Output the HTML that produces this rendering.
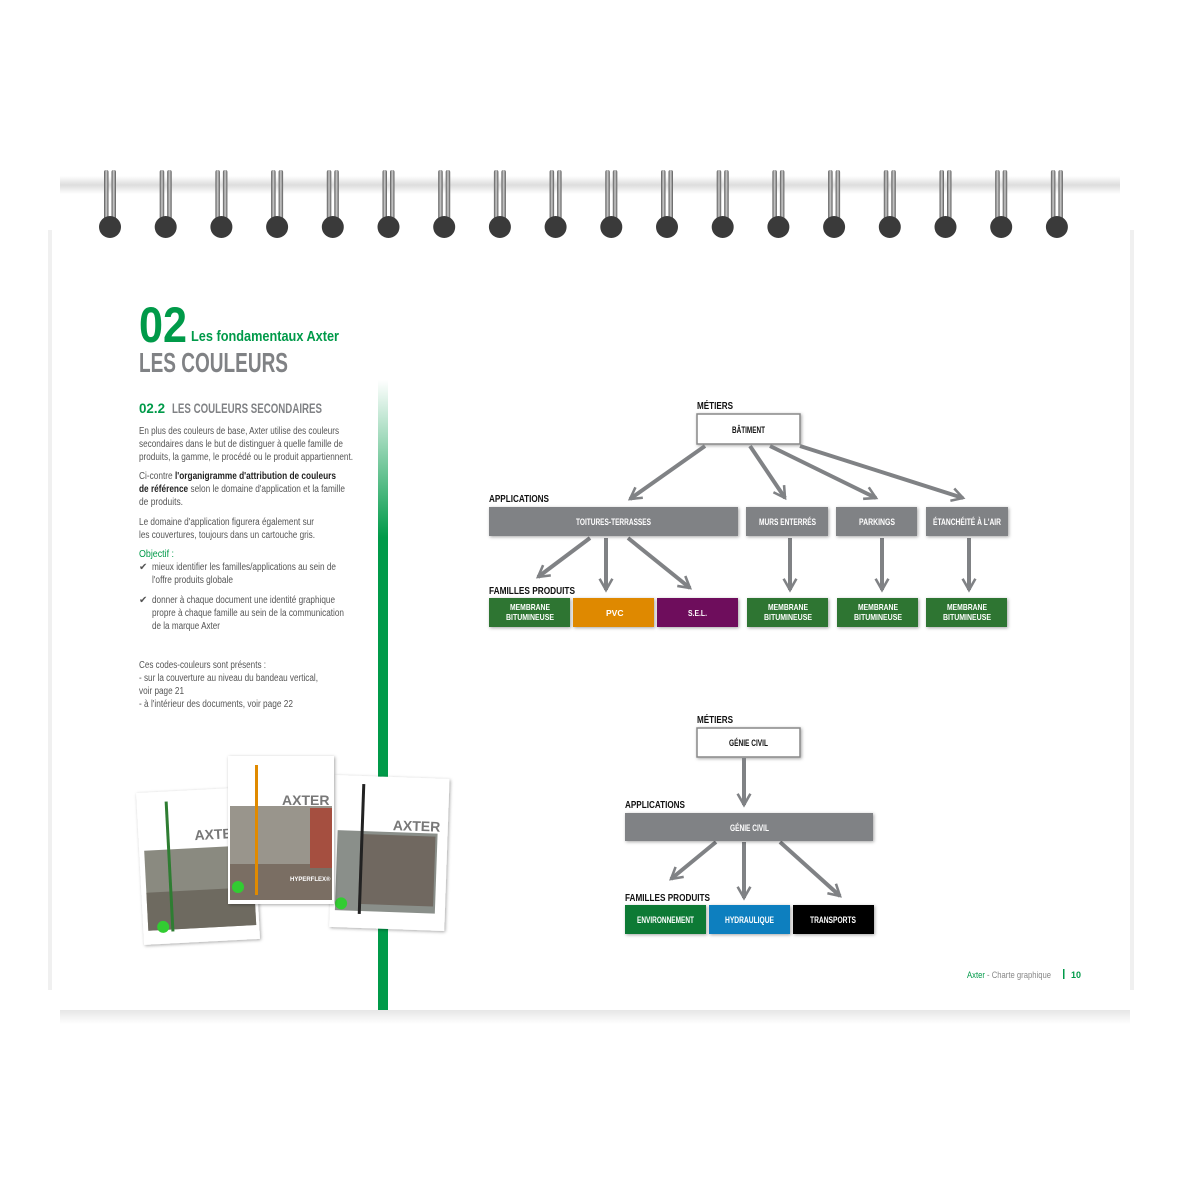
<!DOCTYPE html>
<html><head><meta charset="utf-8"><style>
html,body{margin:0;padding:0;background:#fff;}
svg{display:block}
text{font-family:"Liberation Sans",sans-serif}
</style></head><body>
<svg width="1200" height="1181" viewBox="0 0 1200 1181" xmlns="http://www.w3.org/2000/svg">
<defs>
<linearGradient id="gbar" x1="0" y1="0" x2="0" y2="1">
<stop offset="0" stop-color="#fff"/><stop offset="0.25" stop-color="#009a49"/><stop offset="1" stop-color="#009a49"/>
</linearGradient>
<linearGradient id="ring" x1="0" y1="0" x2="1" y2="0">
<stop offset="0" stop-color="#555"/><stop offset="0.5" stop-color="#ccc"/><stop offset="1" stop-color="#555"/>
</linearGradient>
<linearGradient id="topsh" x1="0" y1="0" x2="0" y2="1">
<stop offset="0" stop-color="#fff"/><stop offset="0.5" stop-color="#ddd"/><stop offset="1" stop-color="#fff"/>
</linearGradient>
<linearGradient id="botsh" x1="0" y1="0" x2="0" y2="1">
<stop offset="0" stop-color="#e6e6e6"/><stop offset="1" stop-color="#fff"/>
</linearGradient>
<filter id="sh" x="-10%" y="-10%" width="130%" height="130%"><feDropShadow dx="1" dy="1" stdDeviation="1.5" flood-color="#000" flood-opacity="0.35"/></filter>
<marker id="ah" viewBox="0 0 10 10" refX="8" refY="5" markerWidth="4" markerHeight="4" orient="auto" markerUnits="strokeWidth">
<path d="M1,1 L8,5 L1,9" fill="none" stroke="#808285" stroke-width="1.6"/>
</marker>
</defs>

<rect x="60" y="176" width="1060" height="18" fill="url(#topsh)"/>
<rect x="60" y="1010" width="1070" height="14" fill="url(#botsh)"/>
<rect x="48" y="230" width="4" height="760" fill="#f0f0f0"/>
<rect x="1130" y="230" width="4" height="760" fill="#f0f0f0"/>

<g id="rings">
<g transform="translate(110,0)"><rect x="-6" y="170" width="4.5" height="58" rx="2" fill="url(#ring)"/><rect x="1.5" y="170" width="4.5" height="58" rx="2" fill="url(#ring)"/><circle cx="0" cy="227" r="11" fill="#3a3a3a"/></g>
</g>
<use href="#rings" x="55.7"/><use href="#rings" x="111.4"/><use href="#rings" x="167.1"/><use href="#rings" x="222.8"/><use href="#rings" x="278.5"/><use href="#rings" x="334.2"/><use href="#rings" x="389.9"/><use href="#rings" x="445.6"/><use href="#rings" x="501.3"/><use href="#rings" x="557"/><use href="#rings" x="612.7"/><use href="#rings" x="668.4"/><use href="#rings" x="724.1"/><use href="#rings" x="779.8"/><use href="#rings" x="835.5"/><use href="#rings" x="891.2"/><use href="#rings" x="946.9"/>

<rect x="378" y="380" width="10" height="630" fill="url(#gbar)"/>

<text x="139" y="342" font-size="50" font-weight="bold" fill="#009a49" textLength="48" lengthAdjust="spacingAndGlyphs">02</text>
<text x="191" y="341" font-size="15" font-weight="bold" fill="#009a49" textLength="148" lengthAdjust="spacingAndGlyphs">Les fondamentaux Axter</text>
<text x="139" y="372" font-size="28" font-weight="bold" fill="#808285" textLength="149" lengthAdjust="spacingAndGlyphs">LES COULEURS</text>
<text x="139" y="413" font-size="13.5" font-weight="bold" fill="#009a49" textLength="26" lengthAdjust="spacingAndGlyphs">02.2</text>
<text x="172" y="413" font-size="13.5" font-weight="bold" fill="#808285" textLength="150" lengthAdjust="spacingAndGlyphs">LES COULEURS SECONDAIRES</text>

<g font-size="10" fill="#555">
<text x="139" y="434" textLength="200" lengthAdjust="spacingAndGlyphs">En plus des couleurs de base, Axter utilise des couleurs</text>
<text x="139" y="447" textLength="204" lengthAdjust="spacingAndGlyphs">secondaires dans le but de distinguer à quelle famille de</text>
<text x="139" y="460" textLength="214" lengthAdjust="spacingAndGlyphs">produits, la gamme, le procédé ou le produit appartiennent.</text>
<text x="139" y="479" textLength="197" lengthAdjust="spacingAndGlyphs">Ci-contre <tspan font-weight="bold" fill="#222">l'organigramme d'attribution de couleurs</tspan></text>
<text x="139" y="492" textLength="206" lengthAdjust="spacingAndGlyphs"><tspan font-weight="bold" fill="#222">de référence</tspan> selon le domaine d'application et la famille</text>
<text x="139" y="505" textLength="44" lengthAdjust="spacingAndGlyphs">de produits.</text>
<text x="139" y="525" textLength="175" lengthAdjust="spacingAndGlyphs">Le domaine d'application figurera également sur</text>
<text x="139" y="538" textLength="176" lengthAdjust="spacingAndGlyphs">les couvertures, toujours dans un cartouche gris.</text>
<text x="139" y="557" fill="#009a49" textLength="35" lengthAdjust="spacingAndGlyphs">Objectif :</text>
<text x="139" y="570">✔</text>
<text x="152" y="570" textLength="184" lengthAdjust="spacingAndGlyphs">mieux identifier les familles/applications au sein de</text>
<text x="152" y="583" textLength="81" lengthAdjust="spacingAndGlyphs">l'offre produits globale</text>
<text x="139" y="603">✔</text>
<text x="152" y="603" textLength="183" lengthAdjust="spacingAndGlyphs">donner à chaque document une identité graphique</text>
<text x="152" y="616" textLength="192" lengthAdjust="spacingAndGlyphs">propre à chaque famille au sein de la communication</text>
<text x="152" y="629" textLength="68" lengthAdjust="spacingAndGlyphs">de la marque Axter</text>
<text x="139" y="668" textLength="127" lengthAdjust="spacingAndGlyphs">Ces codes-couleurs sont présents :</text>
<text x="139" y="681" textLength="179" lengthAdjust="spacingAndGlyphs">- sur la couverture au niveau du bandeau vertical,</text>
<text x="139" y="694" textLength="45" lengthAdjust="spacingAndGlyphs">voir page 21</text>
<text x="139" y="707" textLength="154" lengthAdjust="spacingAndGlyphs">- à l'intérieur des documents, voir page 22</text>
</g>

<g filter="url(#sh)">
<g transform="rotate(-3 198 865)">
<rect x="140" y="790" width="116" height="152" fill="#fff"/>
<rect x="145" y="848" width="108" height="80" fill="#8a8a80"/>
<rect x="145" y="890" width="108" height="38" fill="#6e6a60"/>
<rect x="168" y="800" width="3" height="130" fill="#2f7d32"/>
<text x="196" y="840" font-size="14" font-weight="bold" fill="#777">AXTE</text>
<circle cx="160" cy="925" r="6" fill="#3c3"/>
</g>
</g>
<g filter="url(#sh)">
<g transform="rotate(2 390 850)">
<rect x="332" y="777" width="115" height="152" fill="#fff"/>
<rect x="337" y="832" width="100" height="80" fill="#8a8f8a"/>
<rect x="360" y="835" width="75" height="70" fill="#6f6860"/>
<rect x="360" y="785" width="3" height="130" fill="#222"/>
<text x="392" y="830" font-size="14" font-weight="bold" fill="#777">AXTER</text>
<circle cx="343" cy="905" r="6" fill="#3c3"/>
</g>
</g>
<g filter="url(#sh)">
<rect x="228" y="756" width="106" height="148" fill="#fff"/>
<rect x="230" y="806" width="102" height="94" fill="#99958c"/>
<rect x="230" y="864" width="102" height="36" fill="#7a6e64"/>
<rect x="310" y="808" width="22" height="60" fill="#a5503f"/>
<rect x="255" y="765" width="3" height="130" fill="#e08a00"/>
<text x="282" y="805" font-size="14" font-weight="bold" fill="#777">AXTER</text>
<text x="290" y="881" font-size="6" font-weight="bold" fill="#fff">HYPERFLEX®</text>
<circle cx="238" cy="887" r="6" fill="#3c3"/>
</g>

<g font-weight="bold">
<text x="697" y="409" font-size="10" fill="#111" textLength="36" lengthAdjust="spacingAndGlyphs">MÉTIERS</text>
<rect x="697" y="414" width="103" height="30" fill="#fff" stroke="#888" stroke-width="1.5" filter="url(#sh)"/>
<text x="732" y="433" font-size="9" fill="#111" textLength="33" lengthAdjust="spacingAndGlyphs">BÂTIMENT</text>
<g stroke="#808285" stroke-width="4" marker-end="url(#ah)" fill="none">
<line x1="705" y1="446" x2="630" y2="499"/>
<line x1="750" y1="446" x2="785" y2="498"/>
<line x1="770" y1="446" x2="876" y2="498"/>
<line x1="800" y1="446" x2="963" y2="498"/>
<line x1="590" y1="538" x2="538" y2="577"/>
<line x1="606" y1="538" x2="606" y2="590"/>
<line x1="628" y1="538" x2="690" y2="588"/>
<line x1="790" y1="538" x2="790" y2="590"/>
<line x1="882" y1="538" x2="882" y2="590"/>
<line x1="969" y1="538" x2="969" y2="590"/>
</g>
<text x="489" y="502" font-size="10" fill="#111" textLength="60" lengthAdjust="spacingAndGlyphs">APPLICATIONS</text>
<g fill="#808285" filter="url(#sh)">
<rect x="489" y="507" width="249" height="29"/>
<rect x="746" y="507" width="82" height="29"/>
<rect x="836" y="507" width="81" height="29"/>
<rect x="926" y="507" width="82" height="29"/>
</g>
<g font-size="9" fill="#fff">
<text x="576" y="525" textLength="75" lengthAdjust="spacingAndGlyphs">TOITURES-TERRASSES</text>
<text x="759" y="525" textLength="57" lengthAdjust="spacingAndGlyphs">MURS ENTERRÉS</text>
<text x="859" y="525" textLength="36" lengthAdjust="spacingAndGlyphs">PARKINGS</text>
<text x="933" y="525" textLength="68" lengthAdjust="spacingAndGlyphs">ÉTANCHÉITÉ À L'AIR</text>
</g>
<text x="489" y="594" font-size="10" fill="#111" textLength="86" lengthAdjust="spacingAndGlyphs">FAMILLES PRODUITS</text>
<g filter="url(#sh)">
<rect x="489" y="598" width="81" height="29" fill="#2e7532"/>
<rect x="573" y="598" width="81" height="29" fill="#df8900"/>
<rect x="657" y="598" width="81" height="29" fill="#6e0c5b"/>
<rect x="747" y="598" width="81" height="29" fill="#2e7532"/>
<rect x="837" y="598" width="81" height="29" fill="#2e7532"/>
<rect x="926" y="598" width="81" height="29" fill="#2e7532"/>
</g>
<g font-size="8.5" fill="#fff">
<g transform="translate(489,0)"><text x="21" y="610" textLength="40" lengthAdjust="spacingAndGlyphs">MEMBRANE</text><text x="17" y="620" textLength="48" lengthAdjust="spacingAndGlyphs">BITUMINEUSE</text></g>
<text x="606" y="616">PVC</text>
<text x="688" y="616" textLength="19" lengthAdjust="spacingAndGlyphs">S.E.L.</text>
<g transform="translate(747,0)"><text x="21" y="610" textLength="40" lengthAdjust="spacingAndGlyphs">MEMBRANE</text><text x="17" y="620" textLength="48" lengthAdjust="spacingAndGlyphs">BITUMINEUSE</text></g>
<g transform="translate(837,0)"><text x="21" y="610" textLength="40" lengthAdjust="spacingAndGlyphs">MEMBRANE</text><text x="17" y="620" textLength="48" lengthAdjust="spacingAndGlyphs">BITUMINEUSE</text></g>
<g transform="translate(926,0)"><text x="21" y="610" textLength="40" lengthAdjust="spacingAndGlyphs">MEMBRANE</text><text x="17" y="620" textLength="48" lengthAdjust="spacingAndGlyphs">BITUMINEUSE</text></g>
</g>

<text x="697" y="723" font-size="10" fill="#111" textLength="36" lengthAdjust="spacingAndGlyphs">MÉTIERS</text>
<rect x="697" y="728" width="103" height="29" fill="#fff" stroke="#888" stroke-width="1.5" filter="url(#sh)"/>
<text x="729" y="746" font-size="9" fill="#111" textLength="39" lengthAdjust="spacingAndGlyphs">GÉNIE CIVIL</text>
<g stroke="#808285" stroke-width="4" marker-end="url(#ah)" fill="none">
<line x1="744" y1="758" x2="744" y2="805"/>
<line x1="716" y1="842" x2="671" y2="879"/>
<line x1="744" y1="842" x2="744" y2="898"/>
<line x1="780" y1="842" x2="840" y2="896"/>
</g>
<text x="625" y="808" font-size="10" fill="#111" textLength="60" lengthAdjust="spacingAndGlyphs">APPLICATIONS</text>
<rect x="625" y="813" width="248" height="28" fill="#808285" filter="url(#sh)"/>
<text x="730" y="831" font-size="9" fill="#fff" textLength="39" lengthAdjust="spacingAndGlyphs">GÉNIE CIVIL</text>
<text x="625" y="901" font-size="10" fill="#111" textLength="85" lengthAdjust="spacingAndGlyphs">FAMILLES PRODUITS</text>
<g filter="url(#sh)">
<rect x="625" y="905" width="81" height="29" fill="#0e7a35"/>
<rect x="709" y="905" width="81" height="29" fill="#0a7fbf"/>
<rect x="793" y="905" width="81" height="29" fill="#000"/>
</g>
<g font-size="9" fill="#fff">
<text x="637" y="923" textLength="57" lengthAdjust="spacingAndGlyphs">ENVIRONNEMENT</text>
<text x="725" y="923" textLength="49" lengthAdjust="spacingAndGlyphs">HYDRAULIQUE</text>
<text x="810" y="923" textLength="46" lengthAdjust="spacingAndGlyphs">TRANSPORTS</text>
</g>
</g>

<text x="967" y="978" font-size="9" fill="#009a49" textLength="84" lengthAdjust="spacingAndGlyphs">Axter <tspan fill="#888">- Charte graphique</tspan></text>
<rect x="1063" y="969" width="1.5" height="10" fill="#009a49"/>
<text x="1071" y="978" font-size="9" font-weight="bold" fill="#009a49">10</text>
</svg>
</body></html>
